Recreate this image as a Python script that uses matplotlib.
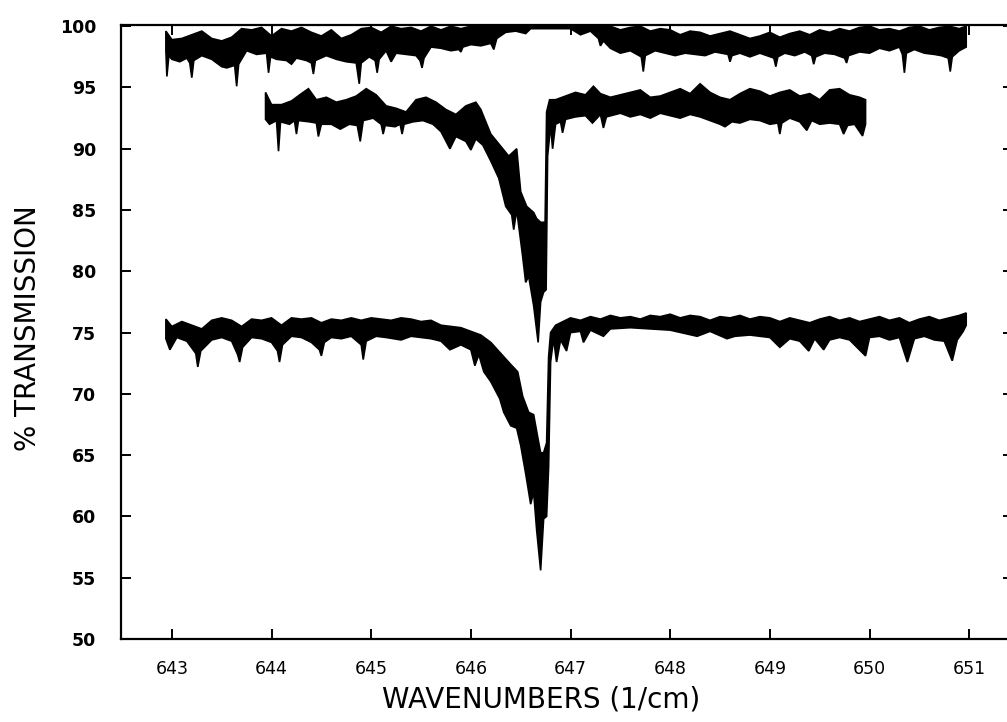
import numpy as np
import matplotlib

matplotlib.use("Agg")
import matplotlib.pyplot as plt

# Three IR transmission scans, each kept as its upper / lower envelope
# (wavenumber, % transmission).
A_UPPER = [(642.94, 99.6), (643.0, 98.9), (643.1, 99.0), (643.2, 99.3), (643.3, 99.6),
           (643.4, 99.0), (643.5, 98.8), (643.6, 99.1), (643.7, 99.8), (643.8, 99.7),
           (643.9, 99.9), (644.0, 99.2), (644.1, 99.8), (644.2, 99.6), (644.3, 99.9),
           (644.4, 99.5), (644.5, 99.2), (644.6, 99.7), (644.7, 99.0), (644.8, 99.3),
           (644.9, 99.8), (645.0, 99.9), (645.1, 99.5), (645.2, 100.0), (645.3, 99.8),
           (645.4, 99.9), (645.5, 99.6), (645.6, 100.0), (645.7, 99.7), (645.8, 100.0),
           (645.9, 99.8), (646.0, 100.0), (647.4, 100.0), (647.5, 99.7), (647.6, 99.9),
           (647.7, 100.0), (647.8, 99.6), (647.9, 99.8), (648.0, 99.7), (648.1, 99.3),
           (648.2, 99.6), (648.3, 99.5), (648.4, 99.2), (648.5, 99.4), (648.6, 99.6),
           (648.7, 99.3), (648.8, 99.0), (648.9, 99.2), (649.0, 99.5), (649.1, 99.1),
           (649.2, 99.4), (649.3, 99.6), (649.4, 99.3), (649.5, 99.7), (649.6, 99.5),
           (649.7, 99.8), (649.8, 99.6), (649.9, 99.9), (650.0, 100.0), (650.1, 99.7),
           (650.2, 99.8), (650.3, 99.6), (650.4, 99.9), (650.5, 100.0), (650.6, 99.7),
           (650.7, 99.9), (650.8, 100.0), (650.9, 99.8), (650.97, 100.0)]
A_LOWER = [(642.94, 98.0), (642.95, 95.9), (642.97, 97.6), (643.0, 97.3), (643.08, 97.1),
           (643.15, 97.4), (643.18, 97.0), (643.2, 95.8), (643.22, 97.2), (643.3, 97.6),
           (643.4, 97.3), (643.5, 96.7), (643.55, 96.6), (643.63, 96.8), (643.65, 95.1),
           (643.67, 96.9), (643.75, 98.0), (643.85, 97.7), (643.95, 97.8), (643.97, 96.2),
           (643.99, 97.5), (644.05, 97.3), (644.15, 97.2), (644.2, 96.9), (644.25, 97.4),
           (644.35, 97.2), (644.4, 97.0), (644.42, 96.1), (644.44, 97.2), (644.55, 97.6),
           (644.65, 97.3), (644.75, 97.1), (644.85, 97.0), (644.88, 95.3), (644.9, 97.0),
           (644.98, 97.5), (645.04, 97.2), (645.06, 96.2), (645.08, 97.3), (645.15, 98.0),
           (645.2, 97.1), (645.25, 97.8), (645.35, 97.7), (645.45, 97.6), (645.49, 97.2),
           (645.51, 96.6), (645.53, 97.4), (645.6, 98.3), (645.7, 98.2), (645.8, 98.0),
           (645.88, 98.1), (645.9, 97.9), (645.92, 98.3), (646.0, 98.5), (646.1, 98.4),
           (646.2, 98.6), (646.23, 98.1), (646.26, 99.0), (646.35, 99.5), (646.45, 99.6),
           (646.55, 99.4), (646.6, 99.8), (647.0, 99.8), (647.1, 99.3), (647.2, 99.6),
           (647.28, 99.0), (647.3, 98.4), (647.33, 98.8), (647.4, 98.2), (647.5, 97.8),
           (647.6, 98.0), (647.71, 97.5), (647.73, 96.3), (647.75, 97.6), (647.85, 98.0),
           (647.95, 97.8), (648.05, 97.6), (648.15, 97.8), (648.25, 97.7), (648.35, 97.6),
           (648.45, 97.9), (648.58, 97.7), (648.6, 97.1), (648.62, 97.6), (648.7, 97.8),
           (648.8, 97.5), (648.9, 97.8), (649.04, 97.4), (649.06, 96.7), (649.08, 97.5),
           (649.15, 97.8), (649.25, 97.6), (649.35, 97.9), (649.42, 97.6), (649.44, 96.9),
           (649.46, 97.5), (649.55, 97.8), (649.65, 97.7), (649.75, 97.4), (649.77, 97.0),
           (649.79, 97.6), (649.9, 97.9), (650.0, 97.8), (650.1, 98.2), (650.2, 98.0),
           (650.3, 98.3), (650.33, 97.7), (650.35, 96.2), (650.37, 97.8), (650.45, 98.1),
           (650.55, 97.8), (650.65, 97.7), (650.72, 97.6), (650.79, 97.4), (650.81, 96.3),
           (650.83, 97.5), (650.9, 98.0), (650.97, 98.3)]

B_UPPER = [(643.94, 94.6), (644.0, 93.6), (644.1, 93.6), (644.2, 93.9), (644.3, 94.5),
           (644.37, 94.9), (644.45, 94.0), (644.55, 94.2), (644.65, 93.8), (644.75, 94.0),
           (644.85, 94.3), (644.95, 94.9), (645.05, 94.4), (645.15, 93.5), (645.25, 93.3),
           (645.35, 93.0), (645.45, 94.0), (645.55, 94.2), (645.65, 93.8), (645.75, 93.2),
           (645.85, 92.8), (645.95, 93.5), (646.05, 93.8), (646.1, 93.2), (646.2, 91.2),
           (646.3, 90.2), (646.38, 89.4), (646.46, 90.0), (646.5, 86.5), (646.56, 85.3),
           (646.63, 84.8), (646.66, 84.3), (646.7, 84.0), (646.745, 84.0), (646.76, 93.0),
           (646.79, 94.0), (646.85, 94.0), (646.95, 94.3), (647.05, 94.6), (647.15, 94.4),
           (647.23, 95.1), (647.3, 94.5), (647.4, 94.2), (647.5, 94.4), (647.6, 94.6),
           (647.7, 94.8), (647.8, 94.2), (647.9, 94.3), (648.0, 94.6), (648.1, 94.9),
           (648.2, 94.5), (648.3, 95.3), (648.4, 94.6), (648.5, 94.2), (648.6, 94.0),
           (648.7, 94.5), (648.8, 94.9), (648.9, 94.7), (649.0, 94.3), (649.1, 94.6),
           (649.2, 94.8), (649.3, 94.3), (649.4, 94.5), (649.5, 94.0), (649.6, 94.8),
           (649.7, 94.9), (649.8, 94.4), (649.9, 94.2), (649.96, 94.0)]
B_LOWER = [(643.94, 92.4), (643.98, 92.0), (644.05, 92.3), (644.07, 89.8), (644.09, 92.2),
           (644.18, 92.0), (644.23, 92.3), (644.25, 91.2), (644.27, 92.3), (644.38, 92.2),
           (644.45, 92.1), (644.47, 91.0), (644.5, 92.0), (644.6, 92.0), (644.69, 91.6),
           (644.78, 92.0), (644.86, 91.9), (644.89, 90.6), (644.92, 92.3), (645.02, 92.5),
           (645.1, 92.0), (645.12, 91.2), (645.14, 91.9), (645.24, 91.8), (645.29, 92.0),
           (645.31, 91.2), (645.33, 92.0), (645.42, 92.2), (645.52, 92.3), (645.62, 92.0),
           (645.7, 91.4), (645.79, 90.0), (645.85, 91.0), (645.95, 90.6), (646.0, 89.9),
           (646.05, 90.8), (646.12, 90.3), (646.2, 89.0), (646.28, 87.6), (646.35, 85.3),
           (646.41, 84.6), (646.43, 83.4), (646.46, 85.0), (646.52, 81.2), (646.55, 79.1),
           (646.58, 79.6), (646.63, 77.2), (646.675, 74.2), (646.7, 77.5), (646.73, 78.3),
           (646.755, 78.5), (646.77, 89.4), (646.8, 91.9), (646.82, 90.0), (646.85, 92.0),
           (646.9, 92.2), (646.92, 91.3), (646.95, 92.4), (647.05, 92.6), (647.15, 92.7),
           (647.22, 92.1), (647.3, 92.8), (647.33, 91.7), (647.36, 92.6), (647.5, 92.9),
           (647.6, 92.6), (647.7, 92.8), (647.8, 92.5), (647.9, 92.9), (648.0, 92.7),
           (648.1, 92.5), (648.2, 92.8), (648.3, 92.6), (648.4, 92.3), (648.5, 92.0),
           (648.55, 91.8), (648.62, 92.2), (648.7, 92.1), (648.8, 92.4), (648.9, 92.3),
           (649.0, 92.0), (649.08, 92.1), (649.1, 91.2), (649.12, 92.1), (649.2, 92.5),
           (649.3, 92.2), (649.37, 91.5), (649.42, 92.3), (649.5, 92.0), (649.6, 92.1),
           (649.7, 92.0), (649.74, 91.2), (649.78, 91.9), (649.85, 92.0), (649.93, 91.05),
           (649.96, 92.0)]

C_UPPER = [(642.94, 76.1), (643.0, 75.5), (643.1, 75.9), (643.2, 75.6), (643.3, 75.3),
           (643.4, 76.0), (643.5, 76.2), (643.6, 76.0), (643.7, 75.5), (643.8, 76.1),
           (643.9, 76.0), (644.0, 76.2), (644.1, 75.6), (644.2, 76.2), (644.3, 76.1),
           (644.4, 76.2), (644.5, 75.8), (644.6, 76.1), (644.7, 76.0), (644.8, 76.2),
           (644.9, 76.0), (645.0, 76.2), (645.1, 76.1), (645.2, 76.0), (645.3, 76.2),
           (645.4, 76.1), (645.5, 75.9), (645.6, 76.0), (645.7, 75.6), (645.8, 75.5),
           (645.9, 75.4), (646.0, 75.1), (646.1, 74.8), (646.2, 74.2), (646.3, 73.3),
           (646.4, 72.4), (646.47, 71.8), (646.52, 69.8), (646.58, 68.5), (646.63, 68.3),
           (646.67, 66.5), (646.7, 65.2), (646.73, 65.2), (646.76, 66.0), (646.78, 73.0),
           (646.8, 75.0), (646.85, 75.6), (646.9, 75.8), (647.0, 76.2), (647.1, 76.0),
           (647.2, 76.3), (647.3, 76.1), (647.4, 76.4), (647.5, 76.2), (647.6, 76.3),
           (647.7, 76.1), (647.8, 76.4), (647.9, 76.3), (648.0, 76.5), (648.1, 76.2),
           (648.2, 76.4), (648.3, 76.3), (648.4, 76.0), (648.5, 76.3), (648.6, 76.2),
           (648.7, 76.4), (648.8, 76.1), (648.9, 76.3), (649.0, 76.2), (649.1, 75.9),
           (649.2, 76.2), (649.3, 76.0), (649.4, 75.8), (649.5, 76.1), (649.6, 76.3),
           (649.7, 76.0), (649.8, 76.2), (649.9, 75.9), (650.0, 76.1), (650.1, 76.3),
           (650.2, 76.0), (650.3, 76.2), (650.4, 75.8), (650.5, 76.1), (650.6, 76.3),
           (650.7, 76.0), (650.8, 76.2), (650.9, 76.4), (650.97, 76.6)]
C_LOWER = [(642.94, 74.5), (642.98, 73.6), (643.05, 74.6), (643.15, 74.3), (643.24, 73.3),
           (643.26, 72.2), (643.29, 73.5), (643.4, 74.4), (643.5, 74.6), (643.6, 74.3),
           (643.66, 73.2), (643.68, 72.6), (643.71, 73.8), (643.8, 74.6), (643.9, 74.5),
           (644.0, 74.2), (644.06, 73.5), (644.08, 72.6), (644.11, 74.0), (644.2, 74.7),
           (644.3, 74.6), (644.4, 74.2), (644.48, 73.6), (644.5, 73.1), (644.53, 74.2),
           (644.6, 74.6), (644.7, 74.5), (644.8, 74.7), (644.9, 74.0), (644.92, 72.8),
           (644.95, 74.3), (645.05, 74.7), (645.15, 74.6), (645.3, 74.4), (645.4, 74.7),
           (645.5, 74.6), (645.6, 74.5), (645.7, 74.3), (645.79, 73.6), (645.9, 74.0),
           (646.0, 73.6), (646.04, 72.3), (646.08, 73.2), (646.13, 71.8), (646.2, 71.0),
           (646.29, 69.6), (646.33, 68.5), (646.4, 67.4), (646.46, 67.2), (646.5, 65.8),
           (646.55, 63.5), (646.6, 61.0), (646.63, 62.0), (646.66, 58.9), (646.7, 55.6),
           (646.73, 59.8), (646.76, 60.0), (646.78, 64.0), (646.8, 72.6), (646.83, 74.5),
           (646.86, 72.6), (646.9, 74.4), (646.96, 73.5), (647.0, 75.0), (647.1, 75.1),
           (647.13, 74.2), (647.2, 75.2), (647.33, 74.7), (647.4, 75.3), (647.6, 75.4),
           (647.8, 75.3), (648.0, 75.2), (648.27, 74.7), (648.4, 75.1), (648.57, 74.5),
           (648.65, 74.7), (648.8, 74.8), (649.0, 74.6), (649.1, 73.8), (649.2, 74.5),
           (649.3, 74.3), (649.39, 73.5), (649.45, 74.5), (649.54, 73.6), (649.6, 74.4),
           (649.7, 74.6), (649.8, 74.4), (649.96, 73.1), (650.0, 74.6), (650.1, 74.7),
           (650.2, 74.4), (650.3, 74.6), (650.38, 72.6), (650.45, 74.5), (650.55, 74.7),
           (650.65, 74.4), (650.75, 74.3), (650.83, 72.7), (650.88, 74.4), (650.94, 75.1),
           (650.97, 75.6)]

X_TICKS = [643, 644, 645, 646, 647, 648, 649, 650, 651]
Y_TICKS = [50, 55, 60, 65, 70, 75, 80, 85, 90, 95, 100]


def band(ax, upper, lower):
    ux, uy = zip(*upper)
    lx, ly = zip(*lower)
    xs = np.r_[ux, lx[::-1]]
    ys = np.r_[uy, ly[::-1]]
    ax.fill(xs, ys, facecolor="black", edgecolor="black", linewidth=1.2,
            joinstyle="miter")


fig = plt.figure(figsize=(10.07, 7.22), dpi=100)
# right spine sits just past the right edge of the scan
ax = fig.add_axes([0.1202, 0.115, 0.8858, 0.8504])

for up, lo in ((A_UPPER, A_LOWER), (B_UPPER, B_LOWER), (C_UPPER, C_LOWER)):
    band(ax, up, lo)

ax.set_xlim(642.49, 651.44)
ax.set_ylim(50, 100.1)
ax.set_xticks(X_TICKS)
ax.set_yticks(Y_TICKS)
ax.tick_params(direction="in", length=7.5, width=1.4, top=True, right=True,
               labelsize=12.5)
ax.tick_params(axis="x", pad=15)
ax.tick_params(axis="y", pad=18)
for lab in ax.get_yticklabels():
    lab.set_fontweight("bold")
for s in ax.spines.values():
    s.set_linewidth(1.6)

ax.set_xlabel("WAVENUMBERS (1/cm)", fontsize=20)
ax.xaxis.set_label_coords(0.471, -0.099)
ax.xaxis.label.set_va("center")
ax.set_ylabel("% TRANSMISSION", fontsize=20)
ax.yaxis.set_label_coords(-0.104, 0.507)
ax.yaxis.label.set_va("center")

fig.savefig("out.png", dpi=100)
